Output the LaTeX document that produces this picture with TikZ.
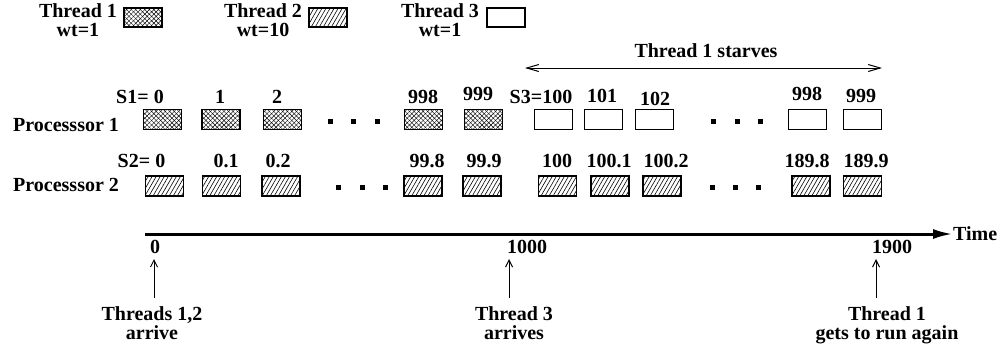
\documentclass[tikz,border=0pt]{standalone}
\usepackage{fontspec}
\setmainfont{Liberation Serif}
\usetikzlibrary{arrows.meta,patterns.meta}

\tikzset{
  lbl/.style={font=\bfseries\fontsize{20}{18.5}\selectfont, inner sep=0pt},
  slot/.style={draw, line width=1.2pt, minimum width=38pt, minimum height=20pt, inner sep=0pt},
  thrA/.style={slot, pattern={Lines[angle=45,distance=3.2pt,line width=0.45pt]},
    postaction={pattern={Lines[angle=-45,distance=3.2pt,line width=0.45pt]}}},
  thrB/.style={slot, pattern={Lines[angle=60,distance=3.5pt,line width=0.6pt]}},
  thrC/.style={slot},
  gap/.style={fill, minimum size=5pt, inner sep=0pt},
  tick/.style={line width=1pt, -{Straight Barb[length=7pt,width=7pt]}, shorten <=9pt}
}

\begin{document}
\begin{tikzpicture}[x=1pt,y=-1pt]
  \useasboundingbox (0,0) rectangle (1002,349);

  % legend
  \node[lbl, align=center, anchor=north] (k1) at (78,3.5) {Thread 1\\wt=1};
  \node[thrA, minimum height=19pt] (kb1) at (143,17.5) {};
  \node[lbl, align=center, anchor=north] (k2) at (263,3.5) {Thread 2\\wt=10};
  \node[thrB, minimum height=19pt] (kb2) at (328,17.5) {};
  \node[lbl, align=center, anchor=north] (k3) at (440,3.5) {Thread 3\\wt=1};
  \node[thrC, minimum height=19pt] (kb3) at (506,17.5) {};

  % processor 1
  \node[lbl, anchor=base west] (p1) at (13,131) {Processsor 1};
  \foreach \x [count=\i] in {162.5,221,282.5,423.5,483.5}
    \node[thrA] (pa\i) at (\x,119.5) {};
  \foreach \x [count=\i] in {553.5,603.5,654.5,807.5,862.5}
    \node[thrC] (pc\i) at (\x,119.5) {};
  \foreach \x/\y/\t [count=\i] in {140/103/S1= 0, 220/103/1, 277/103/2, 423/103/998,
      478/100/999, 541/103/S3=100, 602/102/101, 655/105/102, 807/100/998, 861/102/999}
    \node[lbl, anchor=base] (la\i) at (\x,\y) {\t};
  \foreach \x [count=\i] in {330,353,377,713,737,760}
    \node[gap] (da\i) at (\x,121) {};

  % processor 2
  \node[lbl, anchor=base west] (p2) at (13,191) {Processsor 2};
  \foreach \x [count=\i] in {164.5,221.5,281,423,482,557.5,610,662,811,862.5}
    \node[thrB] (qb\i) at (\x,186) {};
  \foreach \x/\t [count=\i] in {141.5/S2= 0, 226/0.1, 278/0.2, 427/99.8, 484/99.9,
      557/100, 609/100.1, 666/100.2, 807/189.8, 866/189.9}
    \node[lbl, anchor=base] (lb\i) at (\x,167) {\t};
  \foreach \x [count=\i] in {338,362,385,712,735,758}
    \node[gap] (db\i) at (\x,187) {};

  % starvation span
  \node[lbl, anchor=base] (sv) at (706,57) {Thread 1 starves};
  \coordinate (sL) at (525,68);
  \coordinate (sR) at (882,68);
  \draw[line width=1pt, {Straight Barb[length=12pt,width=7pt]}-{Straight Barb[length=12pt,width=7pt]}] (sL) -- (sR);

  % time axis
  \coordinate (t0) at (145,234);
  \node[lbl, anchor=west] (time) at (953,234) {Time};
  \draw[line width=3pt, -{Latex[length=20pt,width=10pt]}] (t0) -- (time.west);
  \node[lbl, anchor=base] (m0) at (155,253) {0};
  \node[lbl, anchor=base] (m1) at (527,253) {1000};
  \node[lbl, anchor=base] (m2) at (892,253) {1900};

  \coordinate (u0) at (154,259);
  \coordinate (u1) at (509,259);
  \coordinate (u2) at (876,259);
  \node[lbl, align=center, anchor=north] (e0) at (152,306.5) {Threads 1,2\\arrive};
  \node[lbl, align=center, anchor=north] (e1) at (514,306.5) {Thread 3\\arrives};
  \node[lbl, align=center, anchor=north] (e2) at (887,306.5) {Thread 1\\gets to run again};
  \draw[tick] (e0.north -| u0) -- (u0);
  \draw[tick] (e1.north -| u1) -- (u1);
  \draw[tick] (e2.north -| u2) -- (u2);
\end{tikzpicture}
\end{document}
